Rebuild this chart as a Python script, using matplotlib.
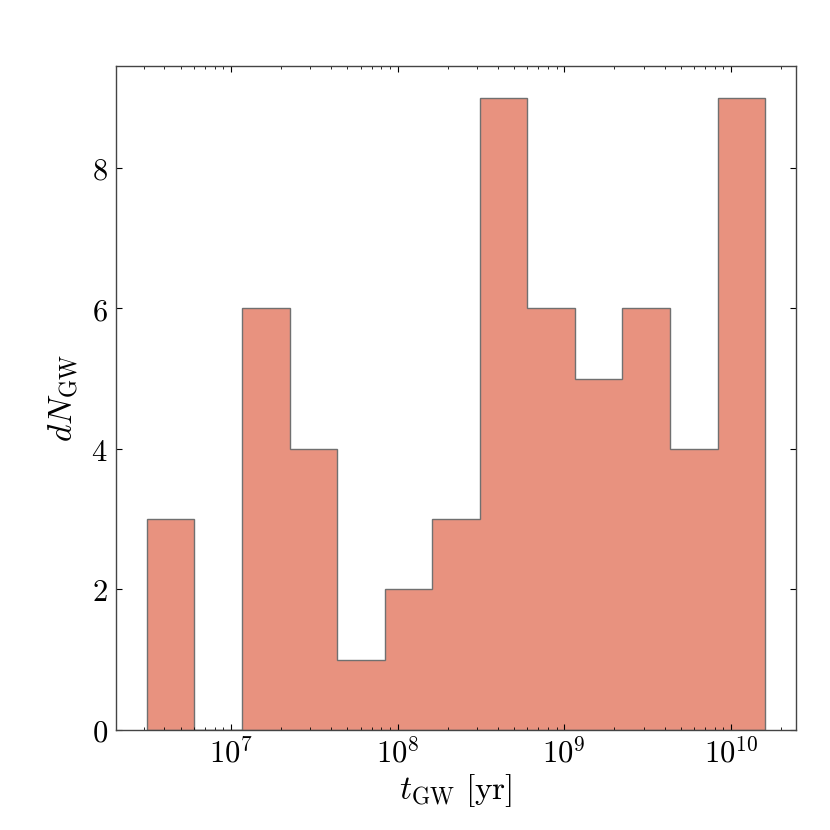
import numpy as np
import matplotlib
matplotlib.use("Agg")
import matplotlib.pyplot as plt
from matplotlib.ticker import FuncFormatter, LogLocator, MultipleLocator

plt.rcParams['mathtext.fontset'] = 'cm'
plt.rcParams['font.family'] = 'serif'

# histogram of merger times (log-spaced bins)
log_t_min = 6.497   # log10 of first bin edge [yr]
log_t_max = 10.204  # log10 of last bin edge [yr]
n_bins = 13
counts = [3, 0, 6, 4, 1, 2, 3, 9, 6, 5, 6, 4, 9]

edges = np.logspace(log_t_min, log_t_max, n_bins + 1)
centers = np.sqrt(edges[:-1] * edges[1:])

fig = plt.figure(figsize=(8.3, 8.3), dpi=100)
ax = fig.add_axes([0.1398, 0.1205, 0.8192, 0.80])

ax.hist(centers, bins=edges, weights=counts, histtype='stepfilled',
        facecolor='#e8927f', edgecolor='#707070', linewidth=1.0)
ax.set_xscale('log')

ax.xaxis.set_major_locator(LogLocator(base=10))
ax.xaxis.set_minor_locator(LogLocator(base=10, subs=np.arange(2, 10)))
ax.xaxis.set_major_formatter(FuncFormatter(lambda v, _: rf'$10^{{{int(round(np.log10(v)))}}}$'))
ax.yaxis.set_major_locator(MultipleLocator(2))
ax.yaxis.set_major_formatter(FuncFormatter(lambda v, _: rf'${int(round(v))}$'))

ax.tick_params(which='both', direction='in', top=True, right=True, labelsize=22)
ax.tick_params(which='major', length=4, width=0.8, pad=6)
ax.tick_params(which='minor', length=2, width=0.6)

for s in ax.spines.values():
    s.set_color('#444444')
    s.set_linewidth(1.0)

ax.set_xlabel(r'$t_{\rm GW}\ [{\rm yr}]$', fontsize=24, labelpad=2)
ax.set_ylabel(r'$dN_{\rm GW}$', fontsize=24, labelpad=8)

fig.savefig('out.png', dpi=100)
